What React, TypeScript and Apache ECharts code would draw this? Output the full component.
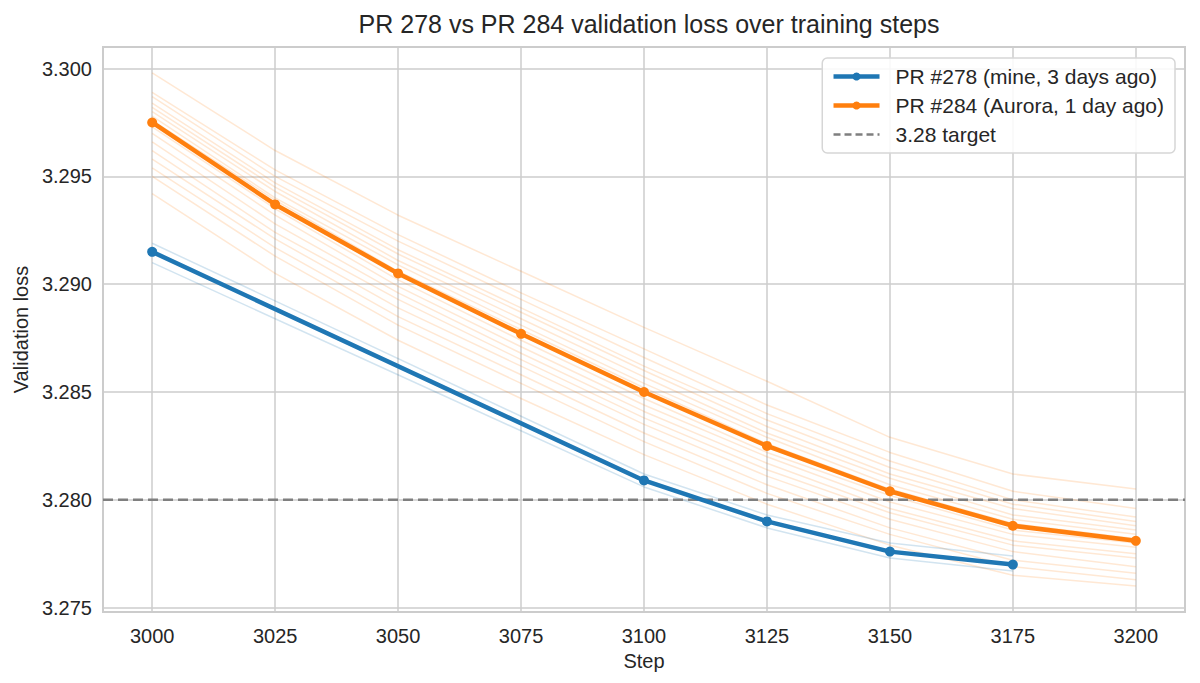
import { useEffect, useRef } from 'react';
import * as echarts from 'echarts';

// training steps
const steps = [3000, 3025, 3050, 3075, 3100, 3125, 3150, 3175, 3200];

// PR #278 only logged a few evals
const pr278Steps = [3000, 3100, 3125, 3150, 3175];
const pr278Loss = [3.2915, 3.2809, 3.279, 3.2776, 3.277];
const pr278Faint = [
  [3.2919, 3.2812, 3.2793, 3.278, 3.2774],
  [3.291, 3.2806, 3.2787, 3.2773, 3.2767],
];

const pr284Loss = [3.2975, 3.2937, 3.2905, 3.2877, 3.285, 3.2825, 3.2804, 3.2788, 3.2781];
const pr284Faint = [
  [3.2998, 3.2962, 3.2932, 3.2906, 3.288, 3.2855, 3.2829, 3.2812, 3.2805],
  [3.2989, 3.2953, 3.2923, 3.2896, 3.287, 3.2844, 3.2822, 3.2804, 3.2796],
  [3.2987, 3.295, 3.292, 3.2893, 3.2866, 3.284, 3.2818, 3.28, 3.2792],
  [3.2984, 3.2947, 3.2916, 3.2889, 3.2862, 3.2837, 3.2815, 3.2798, 3.279],
  [3.2982, 3.2945, 3.2914, 3.2887, 3.286, 3.2834, 3.2812, 3.2796, 3.2788],
  [3.298, 3.2943, 3.2911, 3.2884, 3.2857, 3.2831, 3.281, 3.2793, 3.2786],
  [3.2978, 3.294, 3.2909, 3.2881, 3.2854, 3.2829, 3.2807, 3.2791, 3.2784],
  [3.2976, 3.2939, 3.2906, 3.2879, 3.2852, 3.2826, 3.2805, 3.2789, 3.2782],
  [3.2973, 3.2935, 3.2902, 3.2874, 3.2847, 3.2822, 3.2802, 3.2786, 3.278],
  [3.297, 3.2932, 3.2899, 3.2871, 3.2844, 3.282, 3.2799, 3.2784, 3.2778],
  [3.2966, 3.2928, 3.2896, 3.2868, 3.2841, 3.2817, 3.2796, 3.2781, 3.2775],
  [3.2962, 3.2924, 3.2893, 3.2865, 3.2838, 3.2814, 3.2794, 3.2779, 3.2773],
  [3.2958, 3.2921, 3.2889, 3.2862, 3.2835, 3.2811, 3.2791, 3.2776, 3.2769],
  [3.2954, 3.2917, 3.2885, 3.2858, 3.2831, 3.2807, 3.2787, 3.2772, 3.2766],
  [3.295, 3.2913, 3.2881, 3.2854, 3.2827, 3.2803, 3.2784, 3.2769, 3.2763],
  [3.2942, 3.2905, 3.2874, 3.2847, 3.2821, 3.2798, 3.2779, 3.2765, 3.276],
];

const targetLoss = 3.28;
const xTicks = [3000, 3025, 3050, 3075, 3100, 3125, 3150, 3175, 3200];
const yTicks = [3.275, 3.28, 3.285, 3.29, 3.295, 3.3];

const BLUE = '#1f77b4';
const ORANGE = '#ff7f0e';
const TEXT = '#262626';
const GRID = '#cccccc';
const FONT = '"Liberation Sans", Arial, sans-serif';

const zip = (xs: number[], ys: number[]) => xs.map((x, i) => [x, ys[i]]);

export default function App() {
  const chartRef = useRef<HTMLDivElement>(null);

  useEffect(() => {
    if (!chartRef.current) return;
    document.body.style.margin = '0';
    const chart = echarts.init(chartRef.current, null, { renderer: 'svg' });

    const faint284 = pr284Faint.map((ys, i) => ({
      name: `pr284-run-${i}`,
      type: 'line',
      data: zip(steps, ys),
      symbol: 'none',
      silent: true,
      z: 1,
      lineStyle: { color: ORANGE, width: 1.5, opacity: 0.18 },
    }));
    const faint278 = pr278Faint.map((ys, i) => ({
      name: `pr278-run-${i}`,
      type: 'line',
      data: zip(pr278Steps, ys),
      symbol: 'none',
      silent: true,
      z: 1,
      lineStyle: { color: BLUE, width: 1.5, opacity: 0.2 },
    }));

    chart.setOption({
      animation: false,
      backgroundColor: '#ffffff',
      textStyle: { fontFamily: FONT },
      title: {
        text: 'PR 278 vs PR 284 validation loss over training steps',
        left: 644,
        textAlign: 'center',
        top: 6,
        textStyle: { fontFamily: FONT, fontSize: 25, fontWeight: 'normal', color: TEXT },
      },
      legend: {
        data: [
          { name: 'PR #278 (mine, 3 days ago)', lineStyle: { width: 4.5 } },
          { name: 'PR #284 (Aurora, 1 day ago)', lineStyle: { width: 4.5 } },
          { name: '3.28 target', itemStyle: { opacity: 0 }, lineStyle: { width: 2.5, type: [7, 4] } },
        ],
        orient: 'vertical',
        right: 25,
        top: 58,
        padding: [8, 11, 8, 9],
        itemWidth: 46,
        itemHeight: 10,
        itemGap: 8,
        selectedMode: false,
        backgroundColor: 'rgba(255,255,255,0.85)',
        borderColor: '#d6d6d6',
        borderWidth: 1.5,
        borderRadius: 5,
        textStyle: { fontFamily: FONT, fontSize: 21, color: TEXT, padding: [0, 0, 0, 11] },
      },
      grid: {
        left: 103,
        right: 15,
        top: 47,
        bottom: 71,
        show: true,
        borderColor: GRID,
        borderWidth: 2,
        backgroundColor: 'transparent',
      },
      xAxis: {
        type: 'value',
        min: 2990,
        max: 3210,
        name: 'Step',
        nameLocation: 'middle',
        nameGap: 30,
        nameTextStyle: { fontFamily: FONT, fontSize: 20, color: TEXT },
        axisLine: { show: false },
        axisTick: { show: false, customValues: xTicks },
        axisLabel: {
          customValues: xTicks,
          margin: 14,
          fontFamily: FONT,
          fontSize: 20,
          color: TEXT,
          formatter: (v: number) => String(v),
        },
        splitLine: { show: true, lineStyle: { color: GRID, width: 1.5 } },
      },
      yAxis: {
        type: 'value',
        min: 3.2748,
        max: 3.301,
        name: 'Validation loss',
        nameLocation: 'middle',
        nameGap: 68,
        nameTextStyle: { fontFamily: FONT, fontSize: 20, color: TEXT },
        axisLine: { show: false },
        axisTick: { show: false, customValues: yTicks },
        axisLabel: {
          customValues: yTicks,
          margin: 11,
          fontFamily: FONT,
          fontSize: 20,
          color: TEXT,
          formatter: (v: number) => v.toFixed(3),
        },
        splitLine: { show: true, lineStyle: { color: GRID, width: 1.5 } },
      },
      series: [
        ...faint284,
        ...faint278,
        {
          name: '3.28 target',
          type: 'line',
          data: [
            [2990, targetLoss],
            [3210, targetLoss],
          ],
          symbol: 'none',
          silent: true,
          z: 2,
          itemStyle: { color: '#7f7f7f' },
          lineStyle: { color: '#7f7f7f', width: 2.5, type: [10, 5] },
        },
        {
          name: 'PR #278 (mine, 3 days ago)',
          type: 'line',
          data: zip(pr278Steps, pr278Loss),
          symbol: 'circle',
          symbolSize: 10,
          z: 3,
          itemStyle: { color: BLUE },
          lineStyle: { color: BLUE, width: 4.5 },
        },
        {
          name: 'PR #284 (Aurora, 1 day ago)',
          type: 'line',
          data: zip(steps, pr284Loss),
          symbol: 'circle',
          symbolSize: 10,
          z: 3,
          itemStyle: { color: ORANGE },
          lineStyle: { color: ORANGE, width: 4.5 },
        },
      ],
    });

    const handleResize = () => chart.resize();
    window.addEventListener('resize', handleResize);
    return () => {
      window.removeEventListener('resize', handleResize);
      chart.dispose();
    };
  }, []);

  return <div ref={chartRef} style={{ width: 1200, height: 683 }} />;
}
